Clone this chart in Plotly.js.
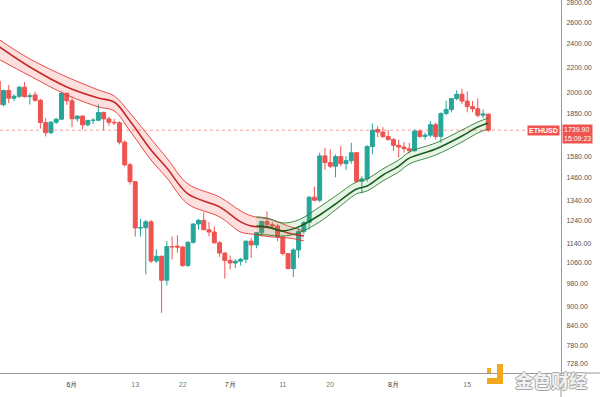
<!DOCTYPE html>
<html><head><meta charset="utf-8">
<script src="https://cdn.plot.ly/plotly-3.0.1.min.js"></script>
<style>html,body{margin:0;padding:0;background:#fff}#chart{width:600px;height:397px}</style>
</head><body><div id="chart"></div>
<script>
// ---- candle data (ETHUSD daily) ----
const startDate = '2022-05-18';
const openP  = [2090,1914,2018,1961,1975,2043,1972,1985,1945,1791,1724,1793,1813,1997,1942,1816,1834,1775,1805,1806,1859,1815,1792,1789,1664,1529,1436,1208,1209,1236,1068,1087,994,1127,1129,1125,1050,1145,1226,1243,1200,1190,1143,1100,1070,1060,1067,1075,1150,1134,1187,1238,1223,1217,1168,1098,1038,1113,1193,1233,1355,1340,1581,1542,1521,1577,1536,1553,1600,1438,1451,1637,1745,1728,1700,1680,1645,1634,1624,1612,1735,1700,1708,1776,1700,1852,1880,1958,1990,1940,1900,1885,1840,1848];
const highP  = [2110,2025,2060,1990,2050,2083,1998,2010,1955,1820,1800,1820,2010,2000,1970,1840,1840,1808,1820,1915,1865,1830,1815,1800,1675,1540,1440,1250,1245,1245,1115,1090,1150,1170,1175,1130,1150,1230,1250,1280,1235,1215,1150,1103,1090,1075,1080,1152,1165,1190,1240,1285,1235,1225,1170,1100,1120,1210,1240,1360,1410,1600,1630,1620,1590,1640,1580,1660,1605,1465,1645,1785,1765,1760,1740,1690,1680,1665,1660,1745,1745,1725,1800,1790,1860,1942,1960,2020,2030,2010,1940,1960,1880,1850];
const lowP   = [1910,1902,1925,1940,1962,1965,1915,1935,1750,1700,1715,1780,1808,1912,1760,1795,1745,1765,1780,1800,1740,1770,1775,1650,1520,1420,1170,1170,1016,1060,1060,880,975,1075,1102,1045,1045,1140,1200,1200,1170,1140,1085,1000,1035,1040,1050,1060,1080,1120,1170,1208,1205,1150,1090,1035,1006,1080,1180,1200,1335,1330,1500,1510,1460,1520,1500,1535,1430,1375,1435,1590,1695,1690,1675,1610,1570,1600,1595,1605,1690,1680,1695,1680,1660,1840,1860,1945,1920,1860,1860,1825,1820,1730];
const closeP = [1914,2018,1961,1975,2043,1972,1978,1945,1791,1724,1793,1813,1997,1942,1816,1834,1775,1805,1806,1859,1815,1792,1789,1664,1529,1436,1208,1209,1236,1068,1087,994,1127,1126,1125,1050,1145,1226,1243,1200,1190,1143,1100,1070,1060,1067,1075,1150,1134,1187,1238,1223,1217,1168,1098,1038,1113,1193,1233,1355,1340,1581,1542,1521,1577,1536,1553,1600,1438,1451,1637,1740,1728,1700,1680,1645,1634,1624,1612,1735,1700,1708,1776,1700,1852,1880,1958,1990,1940,1900,1885,1840,1848,1740];

// ---- moving-average ribbons ----
const redDates   = ['2022-05-18','2022-05-24','2022-05-31','2022-06-06','2022-06-09','2022-06-12','2022-06-16','2022-06-19','2022-06-23','2022-06-29','2022-07-03','2022-07-05','2022-07-09','2022-07-12','2022-07-15'];
const redUpper   = [2446,2270,2123,2022,1977,1855,1684,1568,1424,1356,1287,1264,1245,1217,1195];
const redCenter  = [2382,2203,2045,1962,1933,1801,1616,1511,1372,1307,1236,1217,1208,1186,1172];
const redLower   = [2270,2131,1985,1898,1870,1735,1557,1456,1321,1259,1190,1181,1168,1164,1151];
const greenDates = ['2022-07-06','2022-07-08','2022-07-11','2022-07-14','2022-07-18','2022-07-21','2022-07-25','2022-07-27','2022-07-30','2022-08-02','2022-08-04','2022-08-09','2022-08-14','2022-08-17','2022-08-19'];
const greenUpper = [1259,1254,1231,1245,1307,1361,1435,1451,1506,1557,1604,1659,1741,1794,1821];
const greenCenter= [1217,1213,1195,1213,1268,1321,1397,1413,1472,1522,1568,1622,1703,1761,1788];
const greenLower = [1181,1177,1172,1186,1236,1292,1372,1387,1440,1489,1534,1586,1665,1722,1748];

// ---- axis ticks ----
const yTickVals = [728,780,840,900,980,1060,1140,1240,1340,1460,1580,1850,2000,2200,2400,2600,2800];
const xTickVals = ['2022-06-01','2022-06-13','2022-06-22','2022-07-01','2022-07-11','2022-07-20','2022-08-01','2022-08-15','2022-09-01'];
const xTickText = ['6月','13','22','7月','11','20','8月','15','9月'];
const symbol = 'ETHUSD';
const lastPrice = 1739.90;
const countdown = '15:09:23';

// dates for candles
const dates = [];
{
  const d0 = new Date(startDate + 'T00:00:00Z');
  for (let i = 0; i < openP.length; i++) {
    const d = new Date(d0.getTime() + i * 86400000);
    dates.push(d.toISOString().slice(0, 10));
  }
}

const W = 600, H = 397, ML = 0, MR = 39, MT = 0, MB = 24;
const plotW = W - ML - MR, plotH = H - MT - MB;
const px = x => (x - ML) / plotW;
const py = y => (H - MB - y) / plotH;
const xRange = ['2022-05-18 08:00', '2022-09-01 19:00'];

const RED = '#ef5350', GREEN = '#26a69a';
const traces = [
  {x: redDates, y: redLower, type: 'scatter', mode: 'lines', line: {color: '#e53935', width: 0.9, shape: 'spline'}, hoverinfo: 'skip'},
  {x: redDates, y: redUpper, type: 'scatter', mode: 'lines', line: {color: '#e53935', width: 0.9, shape: 'spline'}, fill: 'tonexty', fillcolor: 'rgba(244,67,54,0.17)', hoverinfo: 'skip'},
  {x: redDates, y: redCenter, type: 'scatter', mode: 'lines', line: {color: '#c62828', width: 1.6, shape: 'spline'}, hoverinfo: 'skip'},
  {x: greenDates, y: greenLower, type: 'scatter', mode: 'lines', line: {color: '#2e7d32', width: 0.9, shape: 'spline'}, hoverinfo: 'skip'},
  {x: greenDates, y: greenUpper, type: 'scatter', mode: 'lines', line: {color: '#2e7d32', width: 0.9, shape: 'spline'}, fill: 'tonexty', fillcolor: 'rgba(76,175,80,0.14)', hoverinfo: 'skip'},
  {x: greenDates, y: greenCenter, type: 'scatter', mode: 'lines', line: {color: '#1b5e20', width: 1.6, shape: 'spline'}, hoverinfo: 'skip'},
  {x: xRange, y: [lastPrice, lastPrice], type: 'scatter', mode: 'lines', line: {color: 'rgba(239,83,80,0.55)', width: 1, dash: '3px,3px'}, hoverinfo: 'skip'},
  {x: dates, open: openP, high: highP, low: lowP, close: closeP, type: 'candlestick',
   increasing: {line: {color: GREEN, width: 1}, fillcolor: GREEN},
   decreasing: {line: {color: RED, width: 1}, fillcolor: RED}, hoverinfo: 'skip'}
];

const tickFont = {family: 'Liberation Sans, Arial, sans-serif', size: 7, color: '#555'};
const layout = {
  width: W, height: H,
  margin: {l: ML, r: MR, t: MT, b: MB, pad: 0},
  paper_bgcolor: '#fff', plot_bgcolor: '#fff',
  showlegend: false,
  boxgap: 0.25, boxgroupgap: 0,
  xaxis: {
    type: 'date', range: xRange, rangeslider: {visible: false},
    tickvals: xTickVals,
    ticktext: xTickText.map(t => /月/.test(t) ? '<span style="color:#333">' + t + '</span>' : t),
    tickfont: Object.assign({}, tickFont, {color: '#777'}),
    ticks: 'outside', ticklen: 5, tickcolor: 'rgba(0,0,0,0)',
    showgrid: false, zeroline: false,
    showline: true, linecolor: '#999', linewidth: 1
  },
  yaxis: {
    type: 'log', side: 'right',
    range: [2.8470, 3.4516],
    tickvals: yTickVals, ticktext: yTickVals.map(v => v.toFixed(2)),
    tickfont: tickFont, ticklabeloverflow: 'allow',
    ticks: 'outside', ticklen: 3, tickcolor: 'rgba(0,0,0,0)',
    showgrid: false, zeroline: false,
    showline: true, linecolor: '#999', linewidth: 1
  },
  annotations: [
    {xref: 'paper', yref: 'y', x: 1, y: Math.log10(lastPrice), xanchor: 'right', yanchor: 'middle',
     xshift: -1, yshift: 0, text: '<b>' + symbol + '</b>', showarrow: false,
     bgcolor: RED, borderpad: 1, font: {family: 'Liberation Sans, Arial, sans-serif', size: 7, color: '#fff'}},
    {xref: 'paper', yref: 'y', x: 1, y: Math.log10(lastPrice), xanchor: 'left', yanchor: 'top',
     xshift: 1, yshift: 6, text: lastPrice.toFixed(2) + '<br>' + countdown, showarrow: false, align: 'left',
     bgcolor: RED, borderpad: 1, font: {family: 'Liberation Sans, Arial, sans-serif', size: 7, color: '#fff'}},
    {xref: 'paper', yref: 'paper', x: px(551), y: py(380), xanchor: 'center', yanchor: 'middle',
     text: '<b>金色财经</b>', showarrow: false,
     font: {family: 'Noto Sans CJK SC', size: 18, color: '#f2f2f2', shadow: '-1px 0 #a8a8a8, 1px 0 #a8a8a8, 0 -1px #a8a8a8, 0 1px #a8a8a8'}}
  ],
  shapes: [
    {type: 'line', xref: 'paper', yref: 'paper', x0: 1, x1: px(600), y0: 0, y1: 0, line: {color: '#999', width: 1}},
    {type: 'line', xref: 'paper', yref: 'paper', x0: 1, x1: 1, y0: 0, y1: py(397), line: {color: '#999', width: 1}},
    {type: 'rect', xref: 'paper', yref: 'paper', x0: px(487), x1: px(491), y0: py(373), y1: py(368), fillcolor: '#f2a81d', line: {width: 0}},
    {type: 'path', xref: 'paper', yref: 'paper',
     path: 'M ' + px(497) + ' ' + py(364) + ' L ' + px(503) + ' ' + py(364) + ' L ' + px(503) + ' ' + py(384) +
           ' L ' + px(487) + ' ' + py(384) + ' L ' + px(487) + ' ' + py(378) + ' L ' + px(497) + ' ' + py(378) + ' Z',
     fillcolor: '#f2a81d', line: {width: 0}}
  ]
};

Plotly.newPlot('chart', traces, layout, {staticPlot: true, displayModeBar: false});
</script>
</body></html>
